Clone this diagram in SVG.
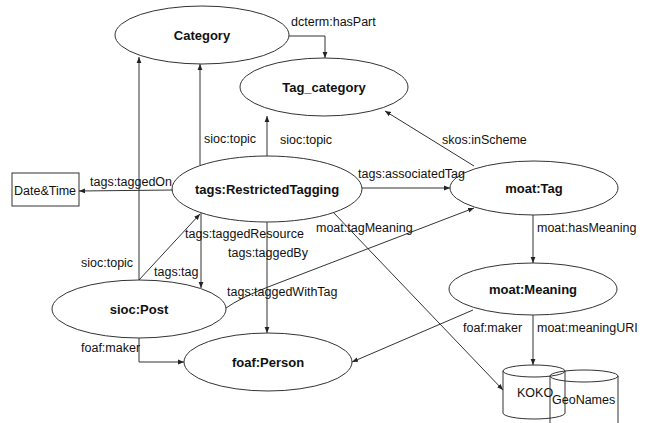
<svg xmlns="http://www.w3.org/2000/svg" width="645" height="423" viewBox="0 0 645 423">
<defs>
<marker id="ah" viewBox="0 0 10 10" refX="10" refY="5" markerWidth="6" markerHeight="6" orient="auto" markerUnits="userSpaceOnUse">
<path d="M0,1 L10,5 L0,9 z" fill="#222"/>
</marker>
<style>
.n{fill:#fff;stroke:#333;stroke-width:1}
.c{fill:none;stroke:#333;stroke-width:1;marker-end:url(#ah)}
.t{font-family:"Liberation Sans",Arial,sans-serif;font-size:13px;font-weight:bold;fill:#111;text-anchor:middle}
.l{font-family:"Liberation Sans",Arial,sans-serif;font-size:12.5px;fill:#111}
.cy{fill:none;stroke:#333;stroke-width:1}
</style>
</defs>
<rect width="645" height="423" fill="#fff"/>
<g id="nodes">
<g id="category"><ellipse class="n" cx="202" cy="35" rx="87" ry="29"/><text class="t" x="202" y="40">Category</text></g>
<g id="tag_category"><ellipse class="n" cx="324" cy="87" rx="84" ry="29"/><text class="t" x="324" y="92">Tag_category</text></g>
<g id="restricted"><ellipse class="n" cx="267" cy="189" rx="95" ry="33"/><text class="t" x="267" y="194">tags:RestrictedTagging</text></g>
<g id="moat_tag"><ellipse class="n" cx="534" cy="188" rx="84" ry="27"/><text class="t" x="534" y="193">moat:Tag</text></g>
<g id="moat_meaning"><ellipse class="n" cx="533" cy="289" rx="84" ry="26"/><text class="t" x="533" y="294">moat:Meaning</text></g>
<g id="sioc_post"><ellipse class="n" cx="139" cy="309" rx="87" ry="29"/><text class="t" x="139" y="314">sioc:Post</text></g>
<g id="foaf_person"><ellipse class="n" cx="268" cy="362" rx="84" ry="29"/><text class="t" x="268" y="367">foaf:Person</text></g>
<g id="datetime"><rect class="n" x="12" y="173" width="67" height="33"/><text class="l" x="14" y="195">Date&amp;Time</text></g>
<g id="koko"><path class="cy" d="M503,371 V413 A31,6 0 0 0 565,413 V371"/><ellipse class="cy" cx="534" cy="371" rx="31" ry="6"/><text class="l" x="517" y="397">KOKO</text></g>
<g id="geonames"><path class="cy" d="M550,376 V430 M618,376 V430"/><ellipse class="cy" cx="584" cy="376" rx="34" ry="6"/><text class="l" x="552" y="404">GeoNames</text></g>
</g>
<g id="connectors">
<path class="c" d="M289,36 H325 V58"/>
<path class="c" d="M200,165 V64"/>
<path class="c" d="M267,156 V116"/>
<path class="c" d="M474,166 L385,111"/>
<path class="c" d="M362,188 H450"/>
<path class="c" d="M173,190 L79,191"/>
<path class="c" d="M533,215 V263"/>
<path class="c" d="M533,315 V365"/>
<path class="c" d="M473,310 L352,362"/>
<path class="c" d="M333,212 L503,390"/>
<path class="c" d="M226,308 Q240,298 268,287 L474,208"/>
<path class="c" d="M267,222 V333"/>
<path class="c" d="M201,213 V288"/>
<path class="c" d="M139,280 L200,214"/>
<path class="c" d="M139,280 V57"/>
<path class="c" d="M139,338 V362 H184"/>
<g id="labels">
<text class="l" x="291" y="26">dcterm:hasPart</text>
<text class="l" x="204" y="143">sioc:topic</text>
<text class="l" x="280" y="144">sioc:topic</text>
<text class="l" x="442" y="144">skos:inScheme</text>
<text class="l" x="358" y="178">tags:associatedTag</text>
<text class="l" x="90" y="186">tags:taggedOn</text>
<text class="l" x="537" y="232">moat:hasMeaning</text>
<text class="l" x="316" y="232">moat:tagMeaning</text>
<text class="l" x="185" y="238">tags:taggedResource</text>
<text class="l" x="228" y="257">tags:taggedBy</text>
<text class="l" x="81" y="267">sioc:topic</text>
<text class="l" x="154" y="276">tags:tag</text>
<text class="l" x="227" y="296">tags:taggedWithTag</text>
<text class="l" x="81" y="352">foaf:maker</text>
<text class="l" x="463" y="332">foaf:maker</text>
<text class="l" x="537" y="332">moat:meaningURI</text>
</g>
</g>
</svg>
